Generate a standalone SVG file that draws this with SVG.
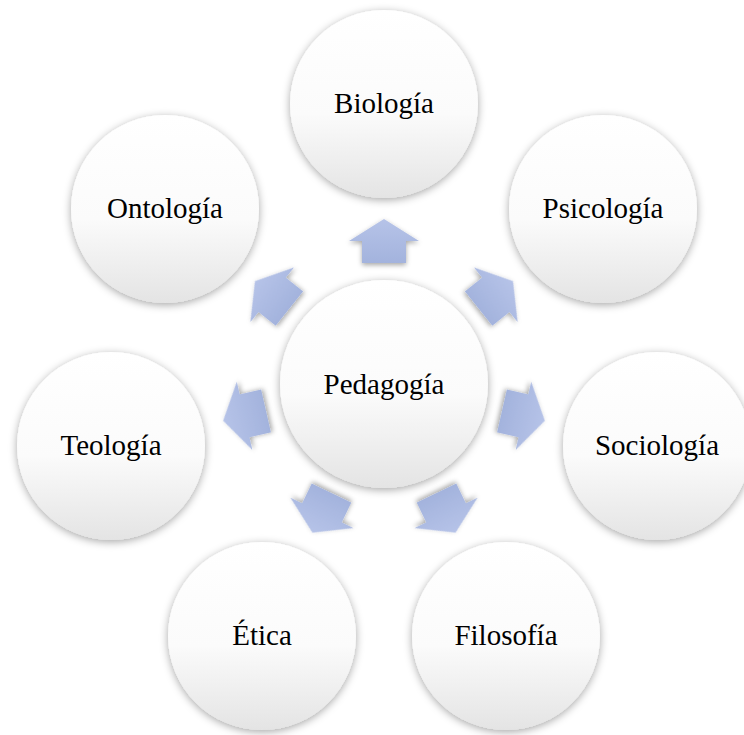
<svg xmlns="http://www.w3.org/2000/svg" width="744" height="735" viewBox="0 0 744 735">
  <defs>
    <linearGradient id="discFill" x1="0" y1="0" x2="0" y2="1">
      <stop offset="0" stop-color="#ffffff"/>
      <stop offset="0.55" stop-color="#fbfbfb"/>
      <stop offset="1" stop-color="#e4e4e4"/>
    </linearGradient>
    <linearGradient id="arrowFill" x1="0" y1="0" x2="0" y2="1">
      <stop offset="0" stop-color="#b6c3e8"/>
      <stop offset="1" stop-color="#a3b3dd"/>
    </linearGradient>
    <filter id="discShadow" x="-20%" y="-20%" width="140%" height="140%">
      <feDropShadow dx="0" dy="2" stdDeviation="4" flood-color="#000" flood-opacity="0.35"/>
    </filter>
    <filter id="arrowShadow" x="-30%" y="-30%" width="160%" height="160%">
      <feDropShadow dx="0" dy="2" stdDeviation="2.5" flood-color="#000" flood-opacity="0.35"/>
    </filter>
    <!-- outward block arrow, pointing up from the hub centre -->
    <path id="blockArrow" d="M384 219 L419 241 L406 241 L406 263 L362 263 L362 241 L349 241 Z"/>
  </defs>
  <style>
    .disc { fill: url(#discFill); filter: url(#discShadow); }
    .arrow { fill: url(#arrowFill); filter: url(#arrowShadow); }
    .label { font-family: "Liberation Serif", "Times New Roman", serif; font-size: 29px; fill: #000; text-anchor: middle; }
  </style>

  <rect width="744" height="735" fill="#ffffff"/>

  <g id="connectors">
    <use href="#blockArrow" class="arrow" transform="rotate(0 384 384)"/>
    <use href="#blockArrow" class="arrow" transform="rotate(51.43 384 384)"/>
    <use href="#blockArrow" class="arrow" transform="rotate(102.86 384 384)"/>
    <use href="#blockArrow" class="arrow" transform="rotate(154.29 384 384)"/>
    <use href="#blockArrow" class="arrow" transform="rotate(205.71 384 384)"/>
    <use href="#blockArrow" class="arrow" transform="rotate(257.14 384 384)"/>
    <use href="#blockArrow" class="arrow" transform="rotate(308.57 384 384)"/>
  </g>

  <g id="pedagogia">
    <circle class="disc" cx="384" cy="384" r="104"/>
    <text class="label" x="384" y="394">Pedagogía</text>
  </g>
  <g id="biologia">
    <circle class="disc" cx="384" cy="104" r="94"/>
    <text class="label" x="384" y="113">Biología</text>
  </g>
  <g id="psicologia">
    <circle class="disc" cx="603" cy="209" r="94"/>
    <text class="label" x="603" y="218">Psicología</text>
  </g>
  <g id="sociologia">
    <circle class="disc" cx="657" cy="446" r="94"/>
    <text class="label" x="657" y="455">Sociología</text>
  </g>
  <g id="filosofia">
    <circle class="disc" cx="506" cy="636" r="94"/>
    <text class="label" x="506" y="645">Filosofía</text>
  </g>
  <g id="etica">
    <circle class="disc" cx="262" cy="636" r="94"/>
    <text class="label" x="262" y="645">Ética</text>
  </g>
  <g id="teologia">
    <circle class="disc" cx="111" cy="446" r="94"/>
    <text class="label" x="111" y="455">Teología</text>
  </g>
  <g id="ontologia">
    <circle class="disc" cx="165" cy="209" r="94"/>
    <text class="label" x="165" y="218">Ontología</text>
  </g>
</svg>
